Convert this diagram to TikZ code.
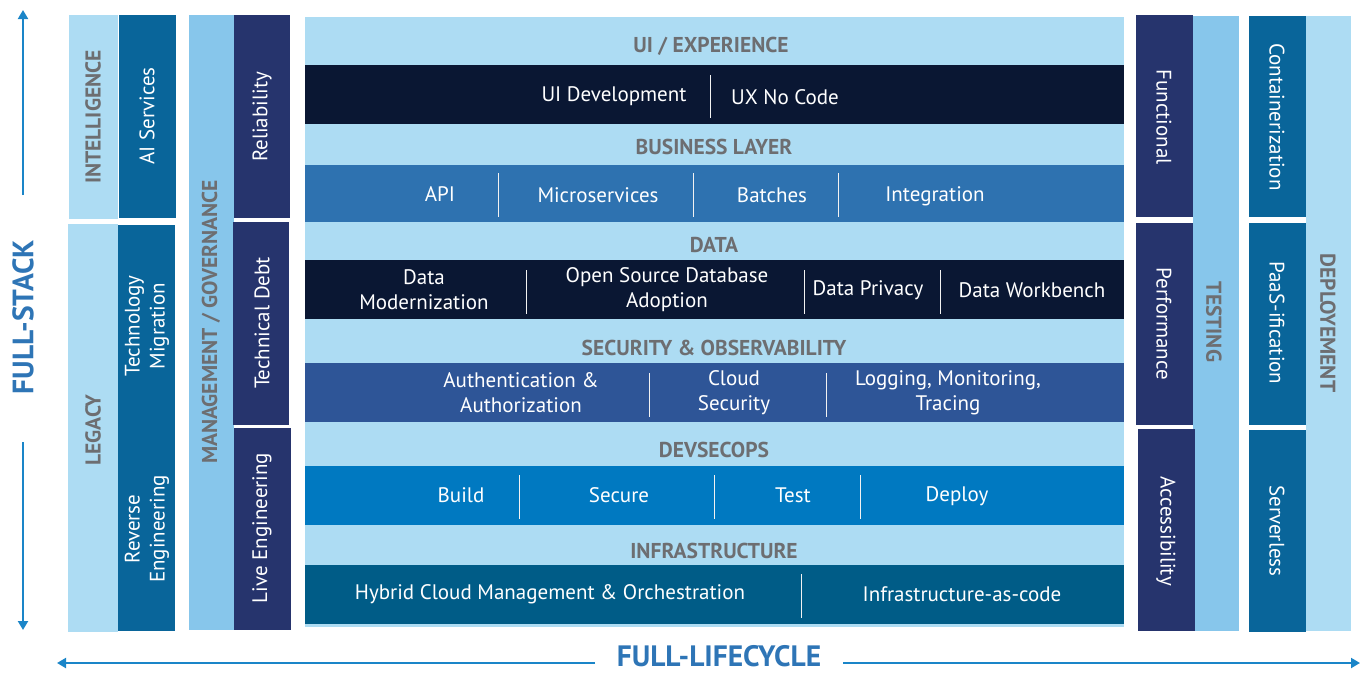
\documentclass[tikz,border=0pt]{standalone}
\usepackage{fontspec}
\setmainfont{PT Sans}
\usetikzlibrary{arrows.meta}
\definecolor{lightband}{HTML}{ADDCF3}
\definecolor{midlight}{HTML}{87C6EB}
\definecolor{teal}{HTML}{09659A}
\definecolor{navy}{HTML}{26346D}
\definecolor{darknavy}{HTML}{0A1733}
\definecolor{business}{HTML}{2E72B0}
\definecolor{security}{HTML}{2E5597}
\definecolor{devsecops}{HTML}{0079C1}
\definecolor{infra}{HTML}{005C87}
\definecolor{headgray}{HTML}{6D6E71}
\definecolor{axisblue}{HTML}{2E75B6}
\definecolor{arrowblue}{HTML}{1A85C8}
\tikzset{>={Triangle[length=9pt,width=10pt]},
  head/.style={text=headgray, font=\fontsize{21.5}{23}\selectfont\bfseries, inner sep=0pt},
  item/.style={text=white, font=\fontsize{21}{25}\selectfont, align=center, inner sep=0pt},
  vhead/.style={head},
  vitem/.style={item},
  axis/.style={text=axisblue, font=\fontsize{29.5}{31}\selectfont\bfseries, inner sep=0pt},
  sep/.style={draw=white!90!gray, line width=1pt},
  arrowline/.style={draw=arrowblue, line width=2pt}}

\begin{document}
\begin{tikzpicture}[x=1pt, y=-1pt]
\useasboundingbox (0,0) rectangle (1361,673);
% middle stack
\fill[lightband] (305,17) rectangle (1124,627);
\fill[darknavy] (305,65) rectangle (1124,124);
\fill[business] (305,165) rectangle (1124,222);
\fill[darknavy] (305,260) rectangle (1124,319);
\fill[security] (305,363) rectangle (1124,422);
\fill[devsecops] (305,466) rectangle (1124,525);
\fill[infra] (305,565) rectangle (1124,624);
\node[head] (hui) at (711,46) {UI / EXPERIENCE};
\node[head] (hbusiness) at (714,147) {BUSINESS LAYER};
\node[head] (hdata) at (714,245) {DATA};
\node[head] (hsecurity) at (714,348) {SECURITY \& OBSERVABILITY};
\node[head] (hdevsecops) at (714,450) {DEVSECOPS};
\node[head] (hinfra) at (714,551) {INFRASTRUCTURE};
% separators
\draw[sep] (710,75) -- (710,118);
\foreach \x in {498,693,838} \draw[sep] (\x,173) -- (\x,217);
\foreach \x in {526,804,940} \draw[sep] (\x,270) -- (\x,314);
\foreach \x in {649,826} \draw[sep] (\x,373) -- (\x,417);
\foreach \x in {519,714,860} \draw[sep] (\x,475) -- (\x,519);
\draw[sep] (801,574) -- (801,618);
% items
\node[item] (uidev) at (614,96) {UI Development};
\node[item] (uxnocode) at (785,97) {UX No Code};
\node[item] (api) at (440,194) {API};
\node[item] (micro) at (598,195) {Microservices};
\node[item] (batches) at (772,195) {Batches};
\node[item] (integ) at (935,196) {Integration};
\node[item] (datamod) at (424,290) {Data\\Modernization};
\node[item] (opensrc) at (667,290) {Open Source Database\\Adoption};
\node[item] (privacy) at (868,290) {Data Privacy};
\node[item] (workbench) at (1032,290) {Data Workbench};
\node[item] (auth) at (521,393) {Authentication \&\\Authorization};
\node[item] (cloudsec) at (734,393) {Cloud\\Security};
\node[item] (logging) at (948,393) {Logging, Monitoring,\\Tracing};
\node[item] (build) at (461,495) {Build};
\node[item] (secure) at (619,495) {Secure};
\node[item] (test) at (793,495) {Test};
\node[item] (deploy) at (957,496) {Deploy};
\node[item] (hybrid) at (550,594) {Hybrid Cloud Management \& Orchestration};
\node[item] (iac) at (962,594) {Infrastructure-as-code};
% left columns
\fill[lightband] (69,15) rectangle (118,219);
\fill[teal] (119,15) rectangle (176,218);
\fill[lightband] (68,224) rectangle (118,632);
\fill[teal] (118,225) rectangle (175,631);
\fill[midlight] (189,15) rectangle (234,630);
\fill[navy] (234,15) rectangle (290,218);
\fill[navy] (233,222) rectangle (289,425);
\fill[navy] (234,428) rectangle (291,630);
\node[vhead, rotate=90] (intel) at (93,117) {INTELLIGENCE};
\node[vitem, rotate=90] (aiserv) at (147,116) {AI Services};
\node[vhead, rotate=90] (legacy) at (93,430) {LEGACY};
\node[vitem, rotate=90] (techmig) at (147,326) {Technology\\Migration};
\node[vitem, rotate=90] (reveng) at (147,529) {Reverse\\Engineering};
\node[vhead, rotate=90] (mgmt) at (211,322) {MANAGEMENT / GOVERNANCE};
\node[vitem, rotate=90] (reliab) at (262,117) {Reliability};
\node[vitem, rotate=90] (techdebt) at (262,323) {Technical Debt};
\node[vitem, rotate=90] (liveeng) at (262,528) {Live Engineering};
% right columns
\fill[navy] (1136,15) rectangle (1193,217);
\fill[midlight] (1193,16) rectangle (1239,631);
\fill[navy] (1136,223) rectangle (1193,425);
\fill[navy] (1138,429) rectangle (1195,631);
\fill[teal] (1249,16) rectangle (1306,217);
\fill[lightband] (1306,16) rectangle (1351,631);
\fill[teal] (1249,223) rectangle (1306,425);
\fill[teal] (1249,430) rectangle (1306,632);
\node[vitem, rotate=-90] (func) at (1164,117) {Functional};
\node[vitem, rotate=-90] (perf) at (1164,324) {Performance};
\node[vitem, rotate=-90] (access) at (1166,531) {Accessibility};
\node[vhead, rotate=-90] (testing) at (1214,322) {TESTING};
\node[vitem, rotate=-90] (contain) at (1277,117) {Containerization};
\node[vitem, rotate=-90] (paas) at (1277,323) {PaaS-ification};
\node[vitem, rotate=-90] (serverless) at (1277,531) {Serverless};
\node[vhead, rotate=-90] (deploying) at (1328,323) {DEPLOYEMENT};
% axes
\node[axis, rotate=90] (fullstack) at (23,317) {FULL-STACK};
\coordinate (stacktop) at (23,10);
\coordinate (stackA) at (23,195);
\coordinate (stackB) at (23,442);
\coordinate (stackbot) at (23,630);
\draw[arrowline, ->] (stackA) -- (stacktop);
\draw[arrowline, ->] (stackB) -- (stackbot);
\node[axis] (fulllife) at (719,656) {FULL-LIFECYCLE};
\coordinate (lifeleft) at (57,663);
\coordinate (lifeA) at (595,663);
\coordinate (lifeB) at (843,663);
\coordinate (liferight) at (1360,663);
\draw[arrowline, ->] (lifeA) -- (lifeleft);
\draw[arrowline, ->] (lifeB) -- (liferight);
\end{tikzpicture}
\end{document}
